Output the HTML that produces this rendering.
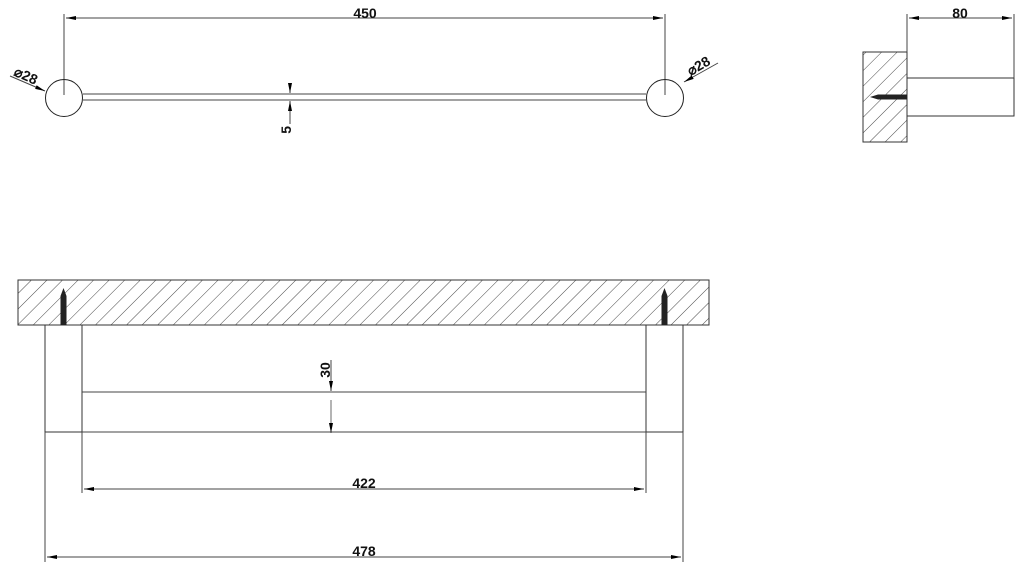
<!DOCTYPE html>
<html><head><style>body{margin:0;background:#fff}svg{display:block}</style></head><body>
<svg width="1024" height="570" xmlns="http://www.w3.org/2000/svg" font-family="Liberation Sans, sans-serif">
<defs>
<pattern id="h" patternUnits="userSpaceOnUse" width="11" height="11" patternTransform="rotate(45)">
<line x1="0" y1="0" x2="0" y2="11" stroke="#333" stroke-width="0.9"/>
</pattern>
<marker id="a" markerWidth="10" markerHeight="6" refX="10" refY="3" orient="auto-start-reverse" markerUnits="userSpaceOnUse"><path d="M0,1 L10,3 L0,5z" fill="#000"/></marker>
</defs>
<g stroke="#444" stroke-width="1" fill="none">
<line x1="64" y1="14" x2="64" y2="95"/>
<line x1="665" y1="14" x2="665" y2="95"/>
<line x1="66" y1="18" x2="663" y2="18" marker-start="url(#a)" marker-end="url(#a)"/>
<circle cx="64" cy="98" r="18.5" stroke="#222"/>
<circle cx="665" cy="98" r="18.5" stroke="#222"/>
<line x1="83" y1="94" x2="646" y2="94"/>
<line x1="83" y1="100" x2="646" y2="100"/>
<line x1="290" y1="84" x2="290" y2="93" marker-end="url(#a)"/>
<line x1="290" y1="124" x2="290" y2="101" marker-end="url(#a)"/>
<line x1="10" y1="76" x2="45" y2="91" marker-end="url(#a)"/>
<line x1="718" y1="63" x2="684" y2="82" marker-end="url(#a)"/>
<rect x="863" y="52" width="44" height="90" fill="url(#h)" stroke="#333"/>
<rect x="907" y="78" width="107" height="38" stroke="#333"/>
<line x1="907" y1="14" x2="907" y2="52"/>
<line x1="1014" y1="14" x2="1014" y2="78"/>
<line x1="909" y1="18" x2="1012" y2="18" marker-start="url(#a)" marker-end="url(#a)"/>
<rect x="18" y="280" width="691" height="45" fill="url(#h)" stroke="#333"/>
<rect x="45" y="325" width="37" height="107" stroke="#333"/>
<rect x="646" y="325" width="37" height="107" stroke="#333"/>
<line x1="82" y1="392" x2="646" y2="392"/>
<line x1="82" y1="432" x2="646" y2="432"/>
<line x1="45" y1="432" x2="45" y2="562"/>
<line x1="683" y1="432" x2="683" y2="562"/>
<line x1="82" y1="432" x2="82" y2="493"/>
<line x1="646" y1="432" x2="646" y2="493"/>
<line x1="84" y1="489" x2="644" y2="489" marker-start="url(#a)" marker-end="url(#a)"/>
<line x1="47" y1="557" x2="681" y2="557" marker-start="url(#a)" marker-end="url(#a)"/>
<line x1="331" y1="360" x2="331" y2="391" marker-end="url(#a)"/>
<line x1="331" y1="400" x2="331" y2="433" marker-end="url(#a)" stroke-width="0.8"/>
</g>
<g fill="#222">
<rect x="60.5" y="296" width="6" height="29"/>
<path d="M60.5,296 L63.5,288 L66.5,296z"/>
<rect x="661.5" y="296" width="6" height="29"/>
<path d="M661.5,296 L664.5,288 L667.5,296z"/>
<rect x="878" y="94.5" width="29" height="5"/>
<path d="M878,94.5 L870,97 L878,99.5z"/>
</g>
<g fill="#111" font-size="14" font-weight="bold">
<text x="365" y="18" text-anchor="middle">450</text>
<text x="960" y="18" text-anchor="middle">80</text>
<text x="364" y="488" text-anchor="middle">422</text>
<text x="364" y="556" text-anchor="middle">478</text>
<text transform="translate(291,126) rotate(-90)" text-anchor="end">5</text>
<text transform="translate(330,370) rotate(-90)" text-anchor="middle">30</text>
<text transform="translate(24,80) rotate(24)" text-anchor="middle">⌀28</text>
<text transform="translate(701,70) rotate(-30)" text-anchor="middle">⌀28</text>
</g>
</svg>
</body></html>
